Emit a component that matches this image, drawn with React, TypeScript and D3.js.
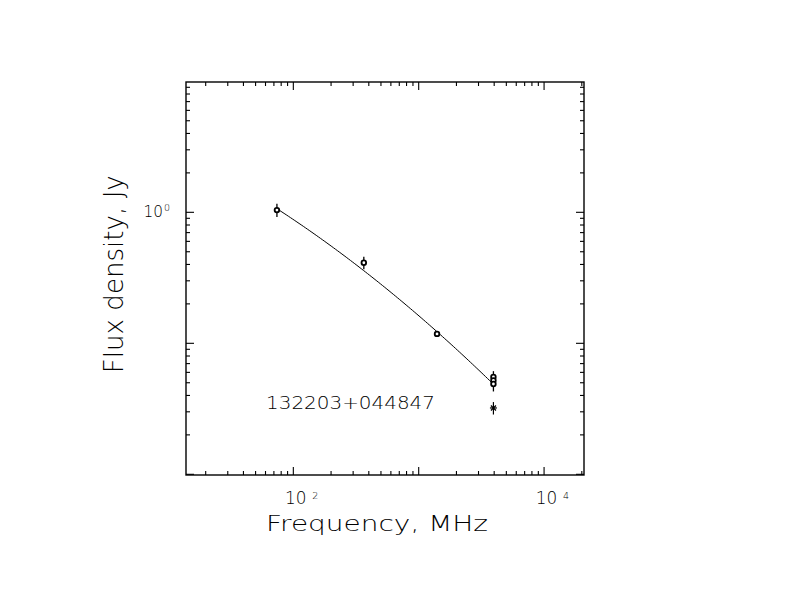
import React from 'react';
import * as d3 from 'd3';

// ---- data ----
const freqMHz = [74, 365, 1400, 3945, 3945, 3945];
const fluxJy = [1.04, 0.412, 0.118, 0.0553, 0.052, 0.0489];
const fluxErr = [0.12, 0.045, 0.004, 0.006, 0.005, 0.006];
const starFreqMHz = [3945];
const starFluxJy = [0.0321];
const starErr = [0.0035];
// fitted spectrum: log S = a + b t + c t^2, t = log(nu) - pivot
const fitCoeffs = [-0.55, -0.77, -0.09];
const fitPivot = 2.7;
const fitRangeMHz = [75, 3830];
const xTickLabels = [
  { v: 100, exp: '2' },
  { v: 10000, exp: '4' },
];
const yTickLabels = [{ v: 1, exp: '0' }];
const xDomain = [13.93, 20820];
const yDomain = [0.00988, 9.88];
const sourceName = '132203+044847';
const xTitle = 'Frequency, MHz';
const yTitle = 'Flux density, Jy';

const W = 792;
const H = 612;
const L = 186, R = 584, T = 82, B = 475;
const FONT = '"DejaVu Sans", sans-serif';

function logTicks(domain: number[]) {
  const out: { v: number; major: boolean }[] = [];
  const lo = Math.floor(Math.log10(domain[0]));
  const hi = Math.ceil(Math.log10(domain[1]));
  for (let e = lo; e <= hi; e++) {
    for (let m = 1; m <= 9; m++) {
      const v = m * Math.pow(10, e);
      if (v >= domain[0] && v <= domain[1]) out.push({ v, major: m === 1 });
    }
  }
  return out;
}

export default function App() {
  const x = d3.scaleLog().domain(xDomain).range([L, R]);
  const y = d3.scaleLog().domain(yDomain).range([B, T]);

  const xt = logTicks(xDomain);
  const yt = logTicks(yDomain);

  const fitFreqs = d3.range(0, 101).map(
    (i) => fitRangeMHz[0] * Math.pow(fitRangeMHz[1] / fitRangeMHz[0], i / 100)
  );
  const fitPts: [number, number][] = fitFreqs.map((f) => {
    const t = Math.log10(f) - fitPivot;
    return [f, Math.pow(10, fitCoeffs[0] + fitCoeffs[1] * t + fitCoeffs[2] * t * t)];
  });
  const line = d3
    .line<[number, number]>()
    .x((d) => x(d[0]))
    .y((d) => y(d[1]));

  const major = 8, minor = 4;
  const stroke = '#000';

  return (
    <svg
      width={W}
      height={H}
      style={{ position: 'absolute', left: 0, top: 0, display: 'block', background: '#fff' }}
      fontFamily={FONT}
      fontWeight={200}
    >
      <rect x={0} y={0} width={W} height={H} fill="#fff" />
      {/* frame */}
      <rect x={L} y={T} width={R - L} height={B - T} fill="none" stroke={stroke} strokeWidth={1.4} />
      {/* x ticks bottom & top */}
      {xt.map((t, i) => {
        const px = x(t.v);
        const len = t.major ? major : minor;
        return (
          <g key={'xt' + i} stroke={stroke} strokeWidth={1.1}>
            <line x1={px} x2={px} y1={B} y2={B - len} />
            <line x1={px} x2={px} y1={T} y2={T + len} />
          </g>
        );
      })}
      {/* y ticks left & right */}
      {yt.map((t, i) => {
        const py = y(t.v);
        const len = t.major ? major : minor;
        return (
          <g key={'yt' + i} stroke={stroke} strokeWidth={1.1}>
            <line x1={L} x2={L + len} y1={py} y2={py} />
            <line x1={R} x2={R - len} y1={py} y2={py} />
          </g>
        );
      })}
      {/* x tick labels */}
      {xTickLabels.map((l, i) => {
        const px = x(l.v);
        return (
          <g key={'xl' + i}>
            <text x={px + 2.5} y={504} fontSize={17} textAnchor="middle" textLength={21.5} lengthAdjust="spacingAndGlyphs">
              10
            </text>
            <text x={px + 19} y={498.5} fontSize={9.5} textAnchor="start">
              {l.exp}
            </text>
          </g>
        );
      })}
      {/* y tick labels */}
      {yTickLabels.map((l, i) => {
        const py = y(l.v);
        return (
          <g key={'yl' + i}>
            <text x={163} y={py + 5} fontSize={16.5} textAnchor="end" textLength={19.5} lengthAdjust="spacingAndGlyphs">
              10
            </text>
            <text x={164} y={py - 1} fontSize={9.5} textAnchor="start">
              {l.exp}
            </text>
          </g>
        );
      })}
      {/* fitted curve */}
      <path d={line(fitPts) || ''} fill="none" stroke={stroke} strokeWidth={1} />
      {/* error bars */}
      {freqMHz.map((f, i) => (
        <line
          key={'eb' + i}
          x1={x(f)}
          x2={x(f)}
          y1={y(fluxJy[i] + fluxErr[i])}
          y2={y(Math.max(fluxJy[i] - fluxErr[i], 1e-6))}
          stroke={stroke}
          strokeWidth={1.3}
        />
      ))}
      {/* data points */}
      {freqMHz.map((f, i) => (
        <circle key={'pt' + i} cx={x(f)} cy={y(fluxJy[i])} r={2.3} fill="#fff" stroke={stroke} strokeWidth={1.8} />
      ))}
      {/* star points */}
      {starFreqMHz.map((f, i) => {
        const cx = x(f);
        const cy = y(starFluxJy[i]);
        return (
          <g key={'st' + i} stroke={stroke} strokeWidth={1.2}>
            <line x1={cx} x2={cx} y1={y(starFluxJy[i] + starErr[i])} y2={y(starFluxJy[i] - starErr[i])} />
            <line x1={cx - 3.5} x2={cx + 3.5} y1={cy} y2={cy} />
            <line x1={cx - 2.5} x2={cx + 2.5} y1={cy - 2.5} y2={cy + 2.5} />
            <line x1={cx - 2.5} x2={cx + 2.5} y1={cy + 2.5} y2={cy - 2.5} />
          </g>
        );
      })}
      {/* source name */}
      <text x={266} y={408.5} fontSize={18} textLength={169} lengthAdjust="spacingAndGlyphs">
        {sourceName}
      </text>
      {/* axis titles */}
      <text x={266} y={530.5} fontSize={21.5} textLength={222} lengthAdjust="spacingAndGlyphs">
        {xTitle}
      </text>
      <text
        transform={`translate(122.5, ${274.2}) rotate(-90)`}
        fontSize={26}
        textAnchor="middle"
        textLength={198}
        lengthAdjust="spacingAndGlyphs"
      >
        {yTitle}
      </text>
    </svg>
  );
}
